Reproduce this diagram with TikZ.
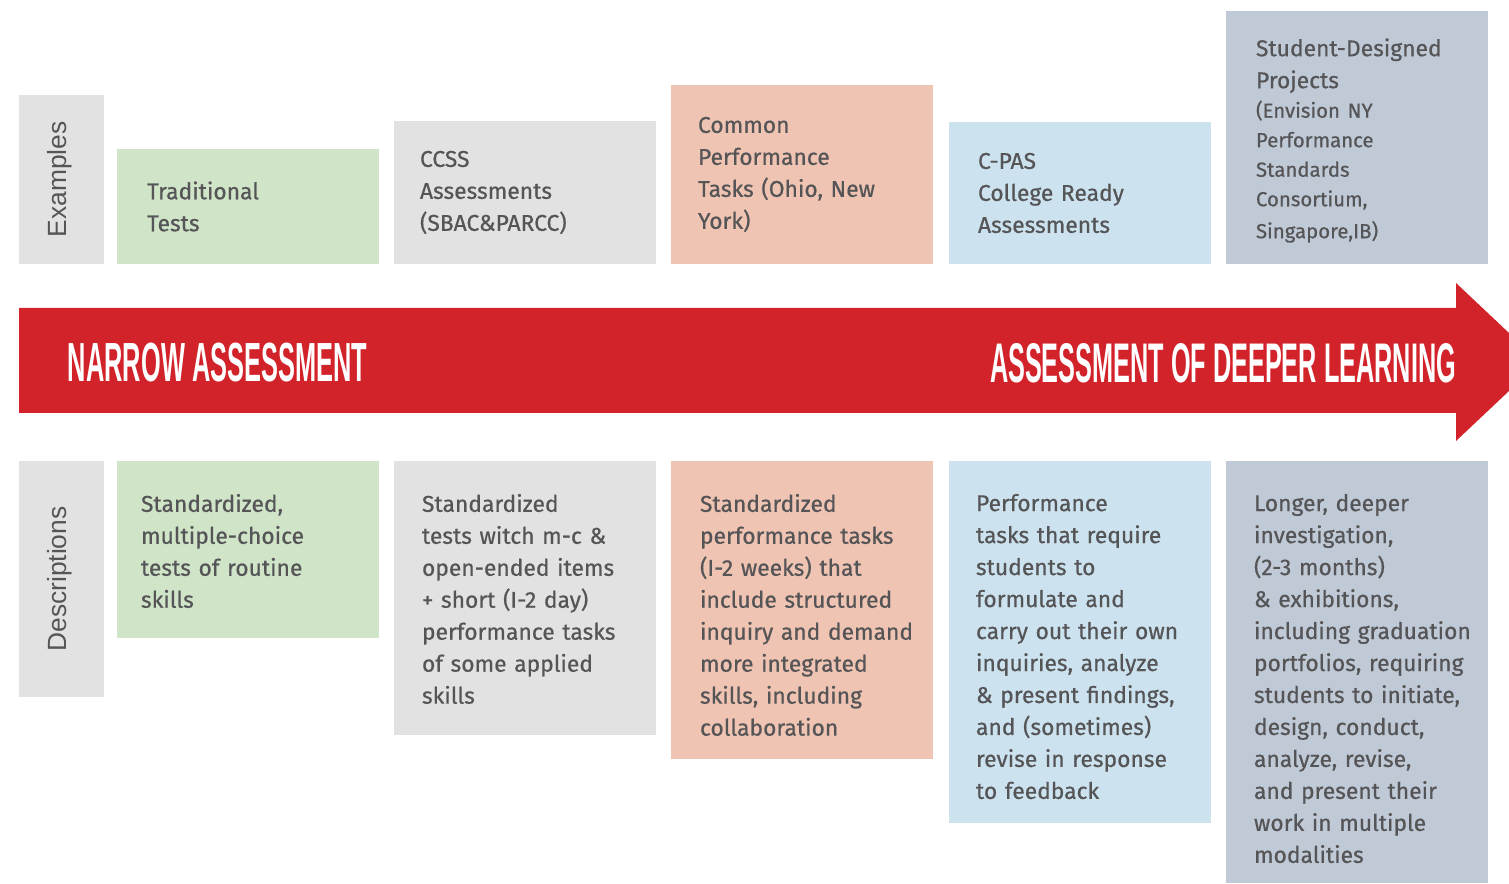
\documentclass[tikz,border=0pt]{standalone}
\usepackage{fontspec}
\setmainfont{Fira Sans}
\newfontfamily\bodyfont{Fira Sans}[FakeBold=0.6]
\newfontfamily\labelfont{Liberation Sans}
\usepackage{graphicx}
\usetikzlibrary{positioning,fit}
\definecolor{greybox}{HTML}{E2E2E2}
\definecolor{greenbox}{HTML}{D0E4C8}
\definecolor{peachbox}{HTML}{F0C4B2}
\definecolor{bluebox}{HTML}{CCE3EF}
\definecolor{slatebox}{HTML}{C0C9D6}
\definecolor{arrowred}{HTML}{D2232A}
\definecolor{textgrey}{HTML}{555557}

\begin{document}
\begin{tikzpicture}[x=0.02cm,y=-0.02cm,every node/.style={inner sep=0,outer sep=0},
    txt/.style={align=left,text width=6cm,text=textgrey,font=\bodyfont\fontsize{13}{18.2}\selectfont},
    side/.style={rotate=90,text=textgrey,font=\labelfont\fontsize{15}{18}\selectfont},
    banner/.style={text=white,font=\labelfont\bfseries}]
    \useasboundingbox (0,0) rectangle (1509,884);
    % examples row
    \node[fit={(19,95) (104,264)},fill=greybox] (exlab) {};
    \node[fit={(117,149) (379,264)},fill=greenbox] (ex1) {};
    \node[fit={(394,121) (656,264)},fill=greybox] (ex2) {};
    \node[fit={(671,85) (933,264)},fill=peachbox] (ex3) {};
    \node[fit={(949,122) (1211,264)},fill=bluebox] (ex4) {};
    \node[fit={(1226,11) (1488,264)},fill=slatebox] (ex5) {};
    \node[side] (exlabtxt) at ([xshift=-0.04cm]exlab.center) {Examples};
    \node[txt,right=0.6cm of ex1.west] (ex1txt) {Traditional\\Tests};
    \node[txt,right=0.52cm of ex2.west] (ex2txt) {CCSS\\Assessments\\(SBAC\&PARCC)};
    \node[txt,right=0.54cm of ex3.west] (ex3txt) {Common\\Performance\\Tasks (Ohio, New\\York)};
    \node[txt,right=0.58cm of ex4.west] (ex4txt) {C-PAS\\College Ready\\Assessments};
    \node[txt,right=0.6cm of ex5.west,yshift=-0.06cm] (ex5txt) {Student-Designed\\Projects\\\fontsize{11.6}{16.8}\selectfont
        (Envision NY\\Performance\\Standards\\Consortium,\\Singapore,IB)};
    % arrow
    \fill[arrowred] (19,308) -- (1456,308) -- (1456,283) -- (1509,333) -- (1509,391)
        -- (1456,441) -- (1456,413) -- (19,413) -- cycle;
    \node[banner,anchor=west] (narrow) at (68,363) {\resizebox{5.98cm}{0.77cm}{NARROW ASSESSMENT}};
    \node[banner,anchor=east] (deeper) at (1456,363) {\resizebox{9.32cm}{0.78cm}{ASSESSMENT OF DEEPER LEARNING}};
    % descriptions row
    \node[fit={(19,461) (104,697)},fill=greybox] (dslab) {};
    \node[fit={(117,461) (379,638)},fill=greenbox] (ds1) {};
    \node[fit={(394,461) (656,735)},fill=greybox] (ds2) {};
    \node[fit={(671,461) (933,759)},fill=peachbox] (ds3) {};
    \node[fit={(949,461) (1211,823)},fill=bluebox] (ds4) {};
    \node[fit={(1226,461) (1488,883)},fill=slatebox] (ds5) {};
    \node[side] (dslabtxt) at ([xshift=-0.04cm]dslab.center) {Descriptions};
    \node[txt,below right=0.66cm and 0.48cm of ds1.north west] (ds1txt)
        {Standardized,\\multiple-choice\\tests of routine\\skills};
    \node[txt,below right=0.66cm and 0.56cm of ds2.north west] (ds2txt)
        {Standardized\\tests witch m-c \&\\open-ended items\\+ short (I-2 day)\\performance tasks\\of some applied\\skills};
    \node[txt,below right=0.66cm and 0.58cm of ds3.north west] (ds3txt)
        {Standardized\\performance tasks\\(I-2 weeks) that\\include structured\\inquiry and demand\\more integrated\\skills, including\\collaboration};
    \node[txt,below right=0.66cm and 0.54cm of ds4.north west] (ds4txt)
        {Performance\\tasks that require\\students to\\formulate and\\carry out their own\\inquiries, analyze\\\& present findings,\\and (sometimes)\\revise in response\\to feedback};
    \node[txt,below right=0.66cm and 0.56cm of ds5.north west] (ds5txt)
        {Longer, deeper\\investigation,\\(2-3 months)\\\& exhibitions,\\including graduation\\portfolios, requiring\\students to initiate,\\design, conduct,\\analyze, revise,\\and present their\\work in multiple\\modalities};
\end{tikzpicture}
\end{document}
